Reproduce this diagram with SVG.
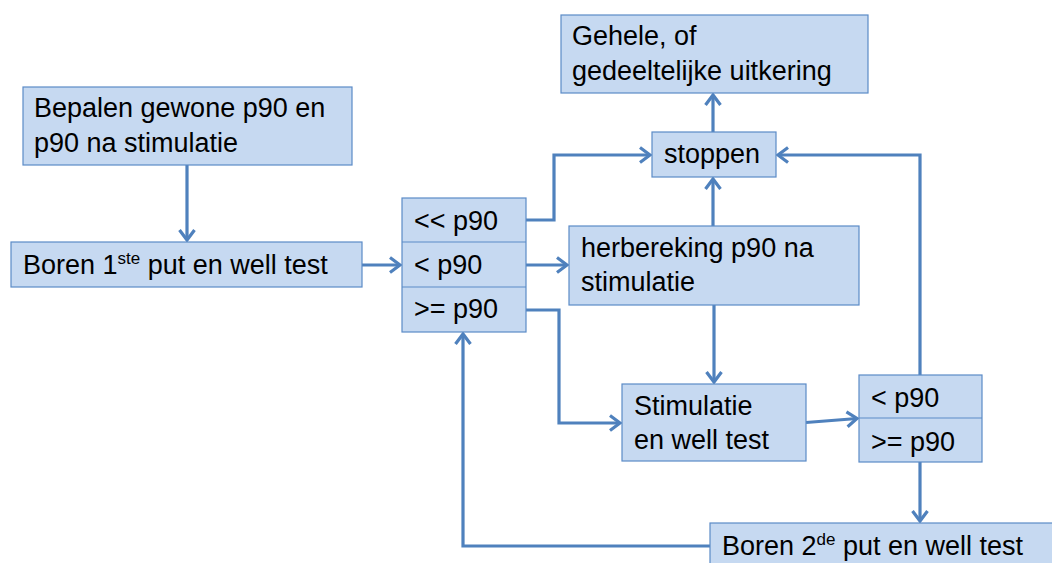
<svg xmlns="http://www.w3.org/2000/svg" width="1052" height="563" viewBox="0 0 1052 563">
<style>
.box{fill:#C6D9F1;stroke:#5B8BC7;stroke-width:1.2}
.div{stroke:#5B8BC7;stroke-width:1.2}
.t{font-family:"Liberation Sans",Arial,sans-serif;font-size:27px;fill:#000}
.sup{font-size:17px}
.c{fill:none;stroke:#4F81BD;stroke-width:3.2;stroke-linejoin:miter}
</style>
<defs>
<marker id="a" markerUnits="userSpaceOnUse" markerWidth="24" markerHeight="24" viewBox="-14 -12 24 24" refX="0" refY="0" orient="auto">
<path d="M-10,-7.5 L0,0 L-10,7.5" fill="none" stroke="#4F81BD" stroke-width="3.2" stroke-linejoin="miter"/>
</marker>
</defs>
<rect width="1052" height="563" fill="#fff"/>
<g id="connectors">
<path class="c" d="M187,165 V240" marker-end="url(#a)"/>
<path class="c" d="M362,265 H400" marker-end="url(#a)"/>
<path class="c" d="M526,220 H554 V155 H650" marker-end="url(#a)"/>
<path class="c" d="M526,265 H567" marker-end="url(#a)"/>
<path class="c" d="M526,310 H559 V423 H620" marker-end="url(#a)"/>
<path class="c" d="M713,132 V95" marker-end="url(#a)"/>
<path class="c" d="M713,226 V179" marker-end="url(#a)"/>
<path class="c" d="M714,305 V382" marker-end="url(#a)"/>
<path class="c" d="M806,422.5 L857,418.5" marker-end="url(#a)"/>
<path class="c" d="M920,375 V155 H778" marker-end="url(#a)"/>
<path class="c" d="M920,462 V521" marker-end="url(#a)"/>
<path class="c" d="M710,546 H463 V334" marker-end="url(#a)"/>
</g>
<g id="n-bepalen">
<rect class="box" x="23" y="87" width="329" height="78"/>
<text class="t" x="34" y="117">Bepalen gewone p90 en</text>
<text class="t" x="34" y="152">p90 na stimulatie</text>
</g>
<g id="n-boren1">
<rect class="box" x="11" y="242" width="351" height="45"/>
<text class="t" x="23" y="274">Boren 1<tspan class="sup" dy="-10">ste</tspan><tspan dy="10"> put en well test</tspan></text>
</g>
<g id="n-decision1">
<rect class="box" x="402" y="198" width="124" height="134"/>
<line class="div" x1="402" y1="242" x2="526" y2="242"/>
<line class="div" x1="402" y1="287" x2="526" y2="287"/>
<text class="t" x="414" y="230">&lt;&lt; p90</text>
<text class="t" x="414" y="274">&lt; p90</text>
<text class="t" x="414" y="318">&gt;= p90</text>
</g>
<g id="n-herbereking">
<rect class="box" x="569" y="226" width="290" height="79"/>
<text class="t" x="581" y="257">herbereking p90 na</text>
<text class="t" x="581" y="291">stimulatie</text>
</g>
<g id="n-stoppen">
<rect class="box" x="652" y="132" width="124" height="45"/>
<text class="t" x="664" y="163">stoppen</text>
</g>
<g id="n-gehele">
<rect class="box" x="561" y="15" width="307" height="78"/>
<text class="t" x="572" y="45">Gehele, of</text>
<text class="t" x="572" y="80">gedeeltelijke uitkering</text>
</g>
<g id="n-stimulatie">
<rect class="box" x="622" y="384" width="184" height="77"/>
<text class="t" x="634" y="415">Stimulatie</text>
<text class="t" x="634" y="449">en well test</text>
</g>
<g id="n-decision2">
<rect class="box" x="859" y="375" width="123" height="87"/>
<line class="div" x1="859" y1="418" x2="982" y2="418"/>
<text class="t" x="871" y="407">&lt; p90</text>
<text class="t" x="871" y="451">&gt;= p90</text>
</g>
<g id="n-boren2">
<rect class="box" x="710" y="523" width="350" height="50"/>
<text class="t" x="722" y="555">Boren 2<tspan class="sup" dy="-10">de</tspan><tspan dy="10"> put en well test</tspan></text>
</g>
</svg>
